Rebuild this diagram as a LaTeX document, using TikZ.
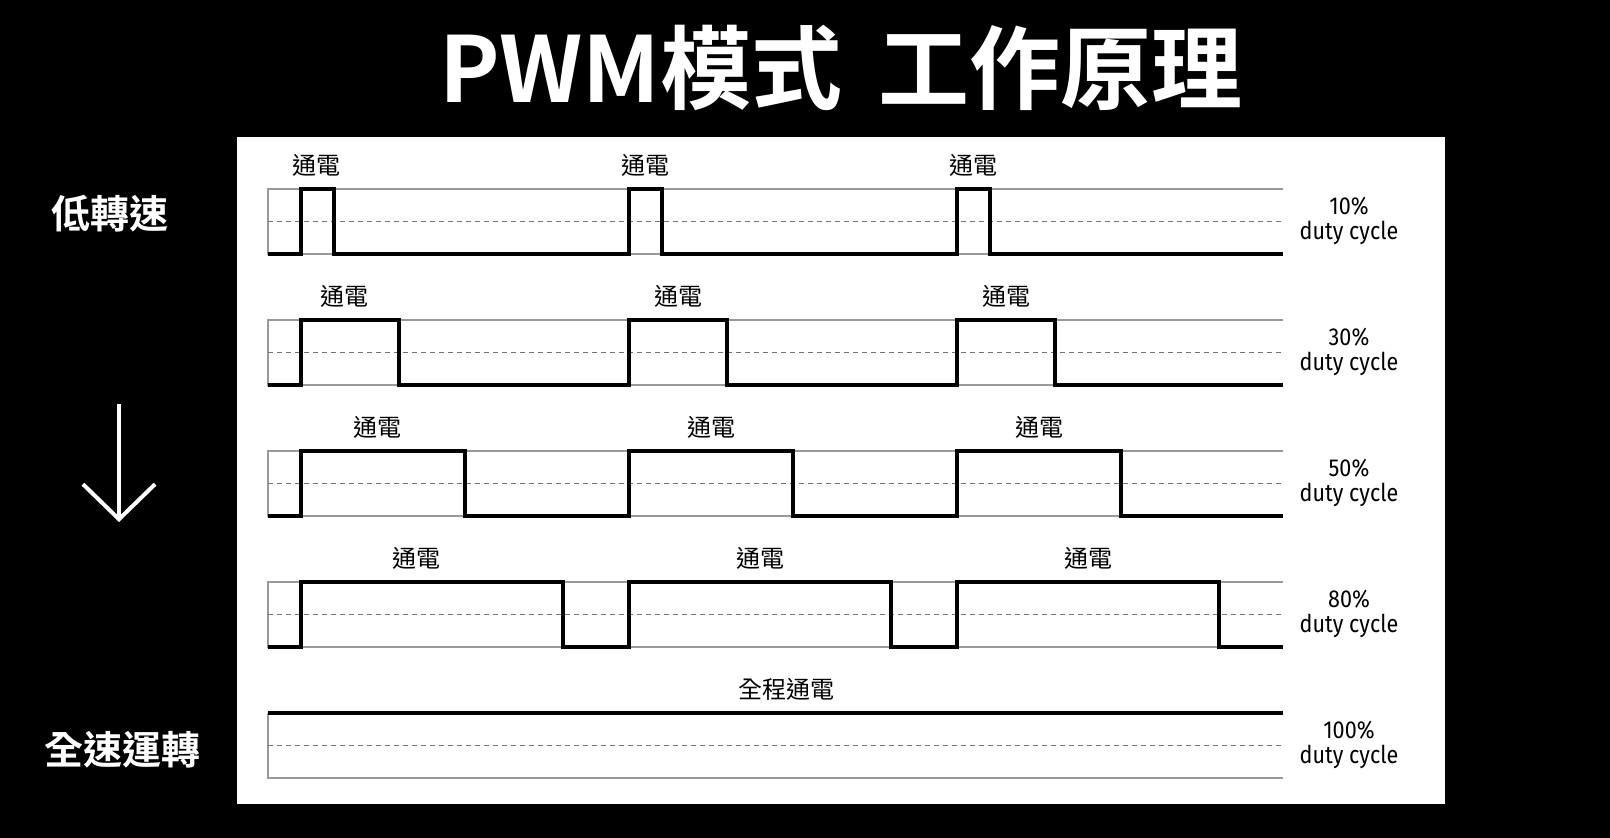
\documentclass[tikz,border=0pt]{standalone}
\usepackage{fontspec}
\setmainfont{Noto Sans CJK TC}[BoldFont={Noto Sans CJK TC Bold}]
\newfontfamily\dutyfont[FakeStretch=0.88]{Fira Sans}
\usetikzlibrary{arrows.meta, positioning}

\begin{document}
\begin{tikzpicture}[
        x=1pt, y=-1pt,
        guide/.style={draw=gray!80, line width=1.3pt},
        midline/.style={draw=gray!90!black, line width=1.2pt, dash pattern=on 5pt off 4pt},
        signal/.style={draw=black, line width=4pt, line join=miter},
        onlabel/.style={font=\fontsize{24}{24}\selectfont, inner sep=0pt},
        duty/.style={font=\dutyfont\fontsize{24.5}{24.5}\selectfont, align=center, inner sep=0pt},
        side/.style={text=white, font=\bfseries\fontsize{39}{39}\selectfont, inner sep=0pt}
    ]
        % background and panel
        \fill[black] (0,0) rectangle (1610,838);
        \fill[white] (237,137) rectangle (1445,804);

        \node[text=white, font=\bfseries\fontsize{91}{91}\selectfont, inner sep=0pt] (title)
            at (841,68) {PWM模式\hspace{0.4em}工作原理};

        % pulse rows
        \foreach \d/\sh [count=\i from 0] in {10/-1,30/-6,50/-6,80/-16} {
            \pgfmathsetmacro\ytop{189+131*\i}
            \pgfmathsetmacro\ybot{\ytop+65}
            \pgfmathsetmacro\w{3.28*\d}
            \draw[guide] (1283,\ytop) -- (268,\ytop) -- (268,\ybot) -- (1283,\ybot);
            \draw[midline] (268,\ytop+32.5) -- (1283,\ytop+32.5);
            \draw[signal] (268,\ybot)
                \foreach \k in {0,1,2} { -- (301+328*\k,\ybot) -- ++(0,-65) -- ++(\w,0) -- ++(0,65) }
                -- (1283,\ybot);
            \foreach \k in {0,1,2} {
                \pgfmathsetmacro\lx{301+328*\k+\w/2+\sh*equal(\k,0)}
                \node[onlabel] (on\i\k) at (\lx,\ytop-24) {通電};
            }
            \node[duty] (duty\i) at (1349,\ytop+32) {\d\%\\duty cycle};
        }

        % full speed row
        \draw[guide] (268,713) -- (268,778) -- (1283,778);
        \draw[midline] (268,745.5) -- (1283,745.5);
        \draw[signal] (268,713) -- (1283,713);
        \node[onlabel] (onfull) at (786,689) {全程通電};
        \node[duty] (duty4) at (1349,745) {100\%\\duty cycle};

        % left side
        \node[side] (low)  at (110,214) {低轉速};
        \node[side] (full) at (123,750) {全速運轉};
        \coordinate (arrtop) at (119,404);
        \coordinate (arrtip) at (119,522);
        \draw[white, line width=4pt, -{Straight Barb[length=35pt, width=72pt]}] (arrtop) -- (arrtip);
    \end{tikzpicture}
\end{document}
